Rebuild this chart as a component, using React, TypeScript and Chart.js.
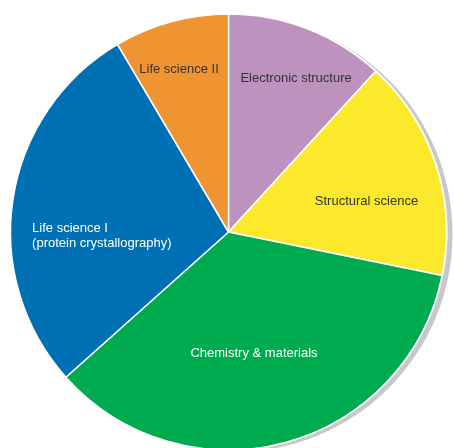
import React, { useEffect, useRef } from "react";
import { Chart, registerables } from "chart.js";

Chart.register(...registerables);

const categories = [
  "Electronic structure",
  "Structural science",
  "Chemistry & materials",
  "Life science I\n(protein crystallography)",
  "Life science II",
];
const shares = [11.8, 16.4, 35.2, 28.1, 8.5];
const sliceColors = ["#BD92BF", "#FDE92C", "#00AA4E", "#0070B4", "#F09432"];
const labelColors = ["#333333", "#333333", "#FFFFFF", "#FFFFFF", "#333333"];
// label anchor offsets relative to pie centre, in units of radius
const labelOffsets: [number, number, CanvasTextAlign][] = [
  [0.31, -0.706, "center"],
  [0.633, -0.138, "center"],
  [0.117, 0.555, "center"],
  [-0.901, 0.016, "left"],
  [-0.227, -0.748, "center"],
];

const shadowPlugin = {
  id: "pieShadow",
  beforeDatasetsDraw(chart: any) {
    const meta = chart.getDatasetMeta(0);
    const arc = meta.data[0];
    if (!arc) return;
    const { x, y, outerRadius } = arc.getProps(["x", "y", "outerRadius"], true);
    const ctx = chart.ctx;
    ctx.save();
    ctx.fillStyle = "#C7C8C9";
    ctx.beginPath();
    ctx.arc(x + 6, y + 2, outerRadius, 0, Math.PI * 2);
    ctx.fill();
    ctx.fillStyle = "#FFFFFF";
    ctx.beginPath();
    ctx.arc(x, y, outerRadius + 1, 0, Math.PI * 2);
    ctx.fill();
    ctx.restore();
  },
};

const labelPlugin = {
  id: "sliceLabels",
  afterDatasetsDraw(chart: any) {
    const meta = chart.getDatasetMeta(0);
    const arc = meta.data[0];
    if (!arc) return;
    const { x, y, outerRadius } = arc.getProps(["x", "y", "outerRadius"], true);
    const ctx = chart.ctx;
    ctx.save();
    ctx.font = '13px "Liberation Sans", Arial, sans-serif';
    ctx.textBaseline = "middle";
    categories.forEach((label, i) => {
      const [ox, oy, align] = labelOffsets[i];
      const lines = label.split("\n");
      ctx.fillStyle = labelColors[i];
      ctx.textAlign = align;
      const lh = 15;
      const startY = y + oy * outerRadius - ((lines.length - 1) * lh) / 2;
      lines.forEach((ln, j) => {
        ctx.fillText(ln, x + ox * outerRadius, startY + j * lh);
      });
    });
    ctx.restore();
  },
};

export default function App() {
  const ref = useRef<HTMLCanvasElement>(null);
  useEffect(() => {
    if (!ref.current) return;
    const chart = new Chart(ref.current, {
      type: "pie",
      data: {
        labels: categories,
        datasets: [
          {
            data: shares,
            backgroundColor: sliceColors,
            borderColor: "#FFFFFF",
            borderWidth: 1.5,
            hoverOffset: 0,
          },
        ],
      },
      options: {
        animation: false,
        responsive: false,
        radius: 218,
        layout: { padding: { left: 3, right: 0, top: 16, bottom: 0 } },
        plugins: {
          legend: { display: false },
          tooltip: { enabled: false },
        },
      } as any,
      plugins: [shadowPlugin, labelPlugin],
    });
    return () => chart.destroy();
  }, []);
  return (
    <div style={{ position: "fixed", left: 0, top: 0, width: 454, height: 448, background: "#fff" }}>
      <canvas ref={ref} width={454} height={448} style={{ width: 454, height: 448, display: "block" }} />
    </div>
  );
}
